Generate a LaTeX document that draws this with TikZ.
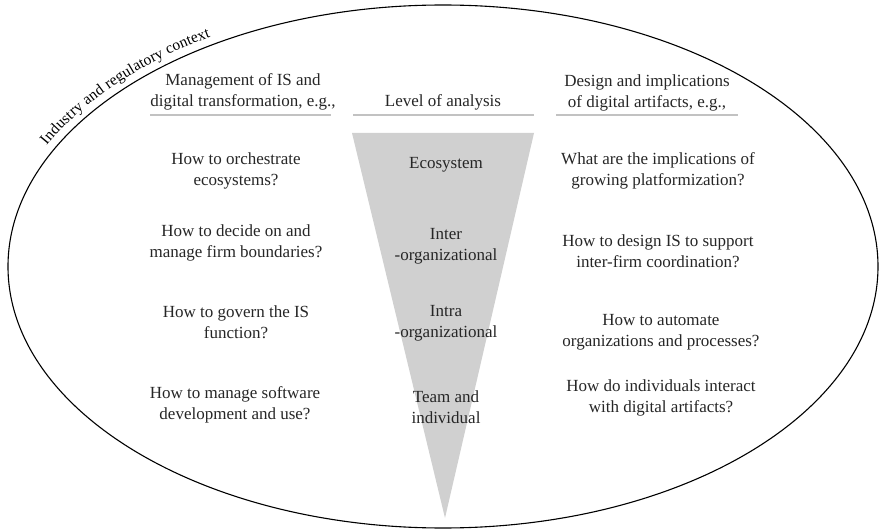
\documentclass[tikz,border=0pt]{standalone}
\usepackage{fontspec}
\setmainfont{Liberation Serif}
\usetikzlibrary{decorations.text}
\definecolor{funnelgray}{HTML}{D0D0D0}
\definecolor{rulegray}{HTML}{C2C2C2}
\begin{document}
\begin{tikzpicture}[x=1pt, y=1pt,
  txt/.style={align=center, inner sep=0pt, font=\fontsize{17}{21}\selectfont, text=black!85},
  headrule/.style={draw=rulegray, line width=2.6pt}]
\useasboundingbox (0,0) rectangle (879,531);

% outer context ellipse
\coordinate (E) at (443,264.5);
\draw[line width=1.1pt] (E) ellipse[x radius=435, y radius=261.5];

% curved label along the ellipse
\path[decorate, decoration={text along path, text align=center, raise=8pt,
    text={|\fontsize{15.5}{17}\selectfont|Industry and regulatory context}}]
  (443+435*cos 165.5, 264.5+261.5*sin 165.5) arc[start angle=165.5, end angle=113.5, x radius=435, y radius=261.5];

% level-of-analysis funnel
\fill[funnelgray] (352,398) -- (534,398) -- (445,13) -- cycle;

% column headers with rules
\node[txt] (hl) at (243,439.5) {Management of IS and\\digital transformation, e.g.,};
\node[txt] (hm) at (443,429) {Level of analysis};
\node[txt] (hr) at (647,438) {Design and implications\\of digital artifacts, e.g.,};
\draw[headrule] (150,416) -- (331,416);
\draw[headrule] (353,416) -- (534,416);
\draw[headrule] (556,416) -- (738,416);

% management questions
\node[txt] (l1) at (236,360) {How to orchestrate\\ecosystems?};
\node[txt] (l2) at (236,288) {How to decide on and\\manage firm boundaries?};
\node[txt] (l3) at (236,208.5) {How to govern the IS\\function?};
\node[txt] (l4) at (235,126) {How to manage software\\development and use?};

% levels
\node[txt] (m1) at (446,366) {Ecosystem};
\node[txt] (m2) at (446,285) {Inter\\-organizational};
\node[txt] (m3) at (446,208) {Intra\\-organizational};
\node[txt] (m4) at (446,123.5) {Team and\\individual};

% design questions
\node[txt] (r1) at (658,360.5) {What are the implications of\\growing platformization?};
\node[txt] (r2) at (658,280) {How to design IS to support\\inter-firm coordination?};
\node[txt] (r3) at (661,198.5) {How to automate\\organizations and processes?};
\node[txt] (r4) at (661,133.5) {How do individuals interact\\with digital artifacts?};
\end{tikzpicture}
\end{document}
